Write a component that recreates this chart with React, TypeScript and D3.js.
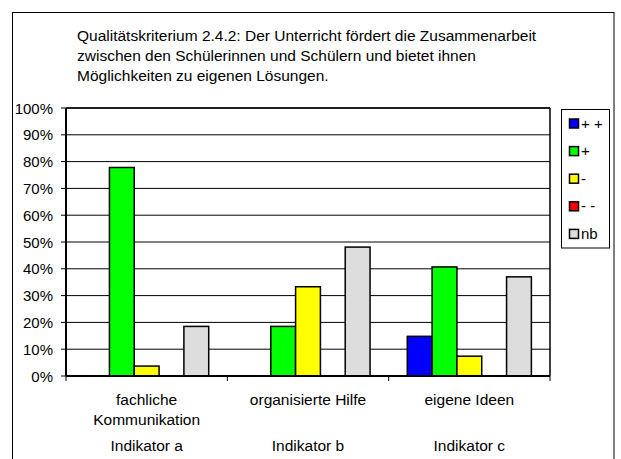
import React from "react";
import * as d3 from "d3";

const categories = ["fachliche\nKommunikation", "organisierte Hilfe", "eigene Ideen"];
const indicators = ["Indikator a", "Indikator b", "Indikator c"];
const seriesNames = ["+ +", "+", "-", "- -", "nb"];
const seriesColors = ["#0000FF", "#00FF00", "#FFFF00", "#FF0000", "#DDDDDD"];
const valPlusPlus = [0, 0, 14.8];
const valPlus = [77.8, 18.5, 40.7];
const valMinus = [3.7, 33.3, 7.4];
const valMinusMinus = [0, 0, 0];
const valNb = [18.5, 48.1, 37.0];
const yTicks = [0, 10, 20, 30, 40, 50, 60, 70, 80, 90, 100];
const titleLines = [
  "Qualitätskriterium 2.4.2: Der Unterricht fördert die Zusammenarbeit",
  "zwischen den Schülerinnen und Schülern und bietet ihnen",
  "Möglichkeiten zu eigenen Lösungen.",
];

const seriesValues = [valPlusPlus, valPlus, valMinus, valMinusMinus, valNb];

export default function App() {
  const W = 621, H = 459;
  const left = 66, right = 550, top = 108, bottom = 376;
  const font = "'Liberation Sans', Arial, sans-serif";
  const fs = 15.5;

  const x0 = d3.scaleBand<number>().domain([0, 1, 2]).range([left, right]).padding(0);
  const bw = x0.bandwidth() / 6.5;
  const x1 = d3.scaleBand<number>().domain([0, 1, 2, 3, 4]).range([0.75 * bw, 5.75 * bw]).padding(0);
  const y = d3.scaleLinear().domain([0, 100]).range([bottom, top]);

  return (
    <svg width={W} height={H} style={{ position: "absolute", left: 0, top: 0, background: "#fff" }} fontFamily={font}>
      <rect x={12.5} y={12.5} width={601.5} height={460} fill="#fff" stroke="#000" strokeWidth={1} />
      {titleLines.map((t, i) => (
        <text key={i} x={77} y={41 + i * 19.8} fontSize={fs} fill="#000">{t}</text>
      ))}
      {/* gridlines */}
      {yTicks.map((v) => (
        <line key={v} x1={left} x2={right} y1={y(v)} y2={y(v)} stroke="#000" strokeWidth={1} />
      ))}
      {/* y tick marks & labels */}
      {yTicks.map((v) => (
        <g key={"t" + v}>
          <line x1={left - 5} x2={left} y1={y(v)} y2={y(v)} stroke="#000" strokeWidth={1} />
          <text x={53} y={y(v) + 5.5} fontSize={15} textAnchor="end" fill="#000">{v}%</text>
        </g>
      ))}
      {/* bars */}
      {seriesValues.map((vals, s) =>
        vals.map((v, c) =>
          v > 0 ? (
            <rect key={s + "-" + c} x={(x0(c) as number) + (x1(s) as number)} y={y(v)} width={x1.bandwidth()}
              height={y(0) - y(v)} fill={seriesColors[s]} stroke="#000" strokeWidth={1.5} />
          ) : null
        )
      )}
      {/* plot border */}
      <line x1={left} x2={right} y1={top} y2={top} stroke="#000" strokeWidth={1.5} />
      <line x1={right} x2={right} y1={top} y2={bottom} stroke="#000" strokeWidth={1.5} />
      <line x1={left} x2={left} y1={top} y2={bottom} stroke="#000" strokeWidth={2} />
      <line x1={left} x2={right} y1={bottom} y2={bottom} stroke="#000" strokeWidth={2} />
      {/* x ticks */}
      {[0, 1, 2, 3].map((i) => {
        const xx = left + i * x0.bandwidth();
        return <line key={i} x1={xx} x2={xx} y1={bottom} y2={bottom + 5} stroke="#000" strokeWidth={1} />;
      })}
      {/* category labels */}
      {categories.map((c, i) => {
        const cx = (x0(i) as number) + x0.bandwidth() / 2;
        return (
          <g key={c}>
            {c.split("\n").map((ln, j) => (
              <text key={j} x={cx} y={405 + j * 19.5} fontSize={fs} textAnchor="middle" fill="#000">{ln}</text>
            ))}
            <text x={cx} y={451} fontSize={fs} textAnchor="middle" fill="#000">{indicators[i]}</text>
          </g>
        );
      })}
      {/* legend */}
      <rect x={561.5} y={109.5} width={48} height={138.5} fill="#fff" stroke="#000" strokeWidth={1} />
      {seriesNames.map((n, i) => {
        const cy = 123.5 + i * 27.6;
        return (
          <g key={n}>
            <rect x={569.5} y={cy - 4.5} width={9} height={9} fill={seriesColors[i]} stroke="#000" strokeWidth={1.5} />
            <text x={581} y={cy + 5} fontSize={15} fill="#000">{n}</text>
          </g>
        );
      })}
    </svg>
  );
}
